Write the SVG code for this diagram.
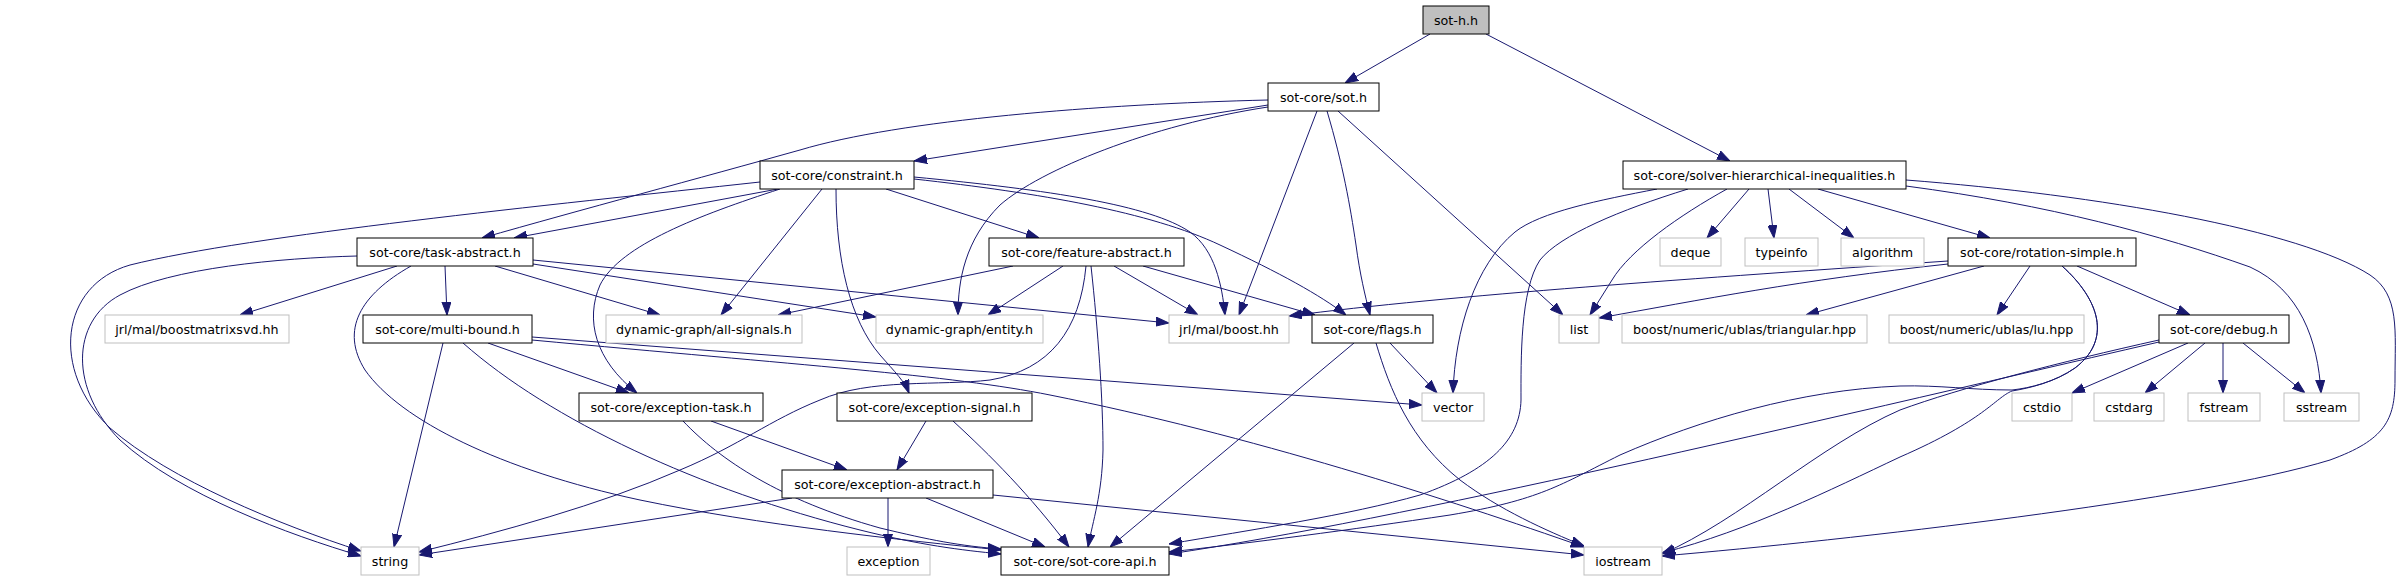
<svg xmlns="http://www.w3.org/2000/svg" width="2401" height="581" viewBox="0 0 2401 581">
<defs>
<style>
.n rect{fill:#fff;stroke:#000;stroke-width:1}
.x rect{fill:#fff;stroke:#bfbfbf;stroke-width:1}
.r rect{fill:#bfbfbf;stroke:#000;stroke-width:1}
text{font-family:"DejaVu Sans","Liberation Sans",sans-serif;font-size:12.7px;text-anchor:middle;fill:#000}
#edges path{fill:none;stroke:#191970;stroke-width:1;marker-end:url(#ah)}
</style>
<marker id="ah" markerUnits="userSpaceOnUse" markerWidth="13" markerHeight="10" viewBox="0 0 13 10" refX="13" refY="5" orient="auto">
<path d="M0,0.5 L13,5 L0,9.5 z" fill="#191970" stroke="#191970" stroke-width="1"/>
</marker>
</defs>
<rect width="2401" height="581" fill="#fff"/>
<g id="edges">
<path d="M1430,34 L1345,83"/>
<path d="M1486,34 L1730,161"/>
<path d="M1268,105 L914,161"/>
<path d="M1268,100 C1100,104 900,120 800,150 C700,178 580,210 482,238"/>
<path d="M1268,107 C1150,125 1040,170 1000,205 C965,240 958,280 958,315"/>
<path d="M1317,111 L1239,315"/>
<path d="M1327,111 C1343,165 1350,205 1356,245 C1360,275 1365,295 1370,315"/>
<path d="M1338,111 L1563,315"/>
<path d="M1657,189 C1600,200 1540,212 1515,232 C1475,265 1455,330 1453,393"/>
<path d="M1688,189 C1620,210 1560,235 1540,260 C1520,290 1521,360 1521,400 C1520,440 1490,470 1420,495 C1350,515 1250,530 1169,544"/>
<path d="M1727,189 C1680,215 1630,250 1612,280 L1590,315"/>
<path d="M1749,189 L1707,238"/>
<path d="M1768,189 L1774,238"/>
<path d="M1789,189 L1854,238"/>
<path d="M1818,189 L1990,238"/>
<path d="M1906,186 C2050,205 2160,235 2250,267 C2300,290 2318,340 2321,393"/>
<path d="M1906,180 C2100,195 2300,230 2370,275 C2400,295 2395,330 2395,380 C2395,420 2385,440 2330,460 C2200,500 1850,540 1662,556"/>
<path d="M778,189 L514,238"/>
<path d="M760,182 C550,205 250,235 130,265 C60,285 50,370 110,428 C170,480 280,525 361,551"/>
<path d="M822,189 L721,315"/>
<path d="M780,189 C700,215 620,245 600,285 C585,320 595,360 637,393"/>
<path d="M836,189 C836,260 850,320 880,355 C895,372 905,382 909,393"/>
<path d="M886,189 L1039,238"/>
<path d="M914,177 C1050,190 1150,205 1190,232 C1215,250 1222,285 1225,315"/>
<path d="M914,179 C1040,193 1150,212 1220,245 C1280,273 1320,295 1346,315"/>
<path d="M397,266 L240,315"/>
<path d="M445,266 L447,315"/>
<path d="M495,266 L660,315"/>
<path d="M533,264 L876,317"/>
<path d="M533,260 L1169,323"/>
<path d="M357,256 C280,258 170,268 120,295 C70,322 70,390 120,440 C180,495 290,535 361,556"/>
<path d="M411,266 C360,295 340,330 365,370 C400,420 500,470 640,500 C760,525 900,540 1001,550"/>
<path d="M1013,266 L778,315"/>
<path d="M1063,266 L988,315"/>
<path d="M1114,266 L1198,315"/>
<path d="M1143,266 L1315,315"/>
<path d="M1086,266 C1080,330 1050,370 990,380 C940,386 870,378 820,400 C770,420 740,445 680,470 C600,505 500,532 419,552"/>
<path d="M1091,266 C1098,330 1103,400 1103,450 C1102,495 1093,520 1088,547"/>
<path d="M1948,261 C1700,278 1450,295 1289,316"/>
<path d="M1948,264 C1800,280 1700,300 1599,318"/>
<path d="M1984,266 L1806,315"/>
<path d="M2030,266 L1997,315"/>
<path d="M2077,266 L2190,315"/>
<path d="M2062,266 C2100,300 2112,340 2075,368 C2055,382 2030,388 2012,390 C1970,390 1940,385 1900,386 C1800,390 1700,420 1620,455 C1560,485 1540,500 1450,515 C1350,530 1250,543 1169,552"/>
<path d="M2062,266 C2100,300 2112,340 2075,368 C2055,382 2030,388 2012,391 C1995,398 1985,420 1900,457 C1830,490 1750,530 1662,553"/>
<path d="M488,343 L629,393"/>
<path d="M443,343 L394,547"/>
<path d="M532,337 L1422,405"/>
<path d="M532,340 C800,365 950,375 1050,395 C1250,435 1450,500 1584,547"/>
<path d="M463,343 C550,420 700,490 860,530 C920,545 960,550 1001,554"/>
<path d="M1390,343 L1437,393"/>
<path d="M1354,343 L1110,547"/>
<path d="M1376,343 C1390,390 1410,440 1460,480 C1500,510 1545,530 1584,546"/>
<path d="M2188,343 L2072,393"/>
<path d="M2205,343 L2145,393"/>
<path d="M2223,343 L2223,393"/>
<path d="M2243,343 L2305,393"/>
<path d="M2159,342 C1800,425 1400,520 1169,554"/>
<path d="M2159,340 C2060,362 1960,388 1900,410 C1820,445 1740,520 1662,554"/>
<path d="M711,421 L847,470"/>
<path d="M683,421 C720,460 780,500 880,528 C930,540 960,546 1001,549"/>
<path d="M926,421 L897,470"/>
<path d="M953,421 C990,455 1030,495 1069,547"/>
<path d="M792,498 L419,555"/>
<path d="M888,498 L888,547"/>
<path d="M926,498 L1045,547"/>
<path d="M993,495 L1584,555"/>
</g>
<g id="node-sot-h" class="r"><rect x="1423" y="6" width="66" height="28"/><text x="1456" y="25">sot-h.h</text></g>
<g id="node-sot" class="n"><rect x="1268" y="83" width="111" height="28"/><text x="1323.5" y="102">sot-core/sot.h</text></g>
<g id="node-solver" class="n"><rect x="1623" y="161" width="283" height="28"/><text x="1764.5" y="180">sot-core/solver-hierarchical-inequalities.h</text></g>
<g id="node-constraint" class="n"><rect x="760" y="161" width="154" height="28"/><text x="837" y="180">sot-core/constraint.h</text></g>
<g id="node-task-abstract" class="n"><rect x="357" y="238" width="176" height="28"/><text x="445" y="257">sot-core/task-abstract.h</text></g>
<g id="node-feature-abstract" class="n"><rect x="989" y="238" width="195" height="28"/><text x="1086.5" y="257">sot-core/feature-abstract.h</text></g>
<g id="node-rotation-simple" class="n"><rect x="1948" y="238" width="188" height="28"/><text x="2042" y="257">sot-core/rotation-simple.h</text></g>
<g id="node-deque" class="x"><rect x="1660" y="238" width="61" height="28"/><text x="1690.5" y="257">deque</text></g>
<g id="node-typeinfo" class="x"><rect x="1745" y="238" width="73" height="28"/><text x="1781.5" y="257">typeinfo</text></g>
<g id="node-algorithm" class="x"><rect x="1841" y="238" width="83" height="28"/><text x="1882.5" y="257">algorithm</text></g>
<g id="node-boostmatrixsvd" class="x"><rect x="105" y="315" width="184" height="28"/><text x="197" y="334">jrl/mal/boostmatrixsvd.hh</text></g>
<g id="node-multi-bound" class="n"><rect x="363" y="315" width="169" height="28"/><text x="447.5" y="334">sot-core/multi-bound.h</text></g>
<g id="node-all-signals" class="x"><rect x="606" y="315" width="196" height="28"/><text x="704" y="334">dynamic-graph/all-signals.h</text></g>
<g id="node-entity" class="x"><rect x="876" y="315" width="167" height="28"/><text x="959.5" y="334">dynamic-graph/entity.h</text></g>
<g id="node-boost" class="x"><rect x="1169" y="315" width="120" height="28"/><text x="1229" y="334">jrl/mal/boost.hh</text></g>
<g id="node-flags" class="n"><rect x="1312" y="315" width="121" height="28"/><text x="1372.5" y="334">sot-core/flags.h</text></g>
<g id="node-list" class="x"><rect x="1559" y="315" width="40" height="28"/><text x="1579" y="334">list</text></g>
<g id="node-triangular" class="x"><rect x="1622" y="315" width="245" height="28"/><text x="1744.5" y="334">boost/numeric/ublas/triangular.hpp</text></g>
<g id="node-lu" class="x"><rect x="1889" y="315" width="195" height="28"/><text x="1986.5" y="334">boost/numeric/ublas/lu.hpp</text></g>
<g id="node-debug" class="n"><rect x="2159" y="315" width="130" height="28"/><text x="2224" y="334">sot-core/debug.h</text></g>
<g id="node-exception-task" class="n"><rect x="579" y="393" width="184" height="28"/><text x="671" y="412">sot-core/exception-task.h</text></g>
<g id="node-exception-signal" class="n"><rect x="837" y="393" width="195" height="28"/><text x="934.5" y="412">sot-core/exception-signal.h</text></g>
<g id="node-vector" class="x"><rect x="1422" y="393" width="62" height="28"/><text x="1453" y="412">vector</text></g>
<g id="node-cstdio" class="x"><rect x="2012" y="393" width="60" height="28"/><text x="2042" y="412">cstdio</text></g>
<g id="node-cstdarg" class="x"><rect x="2094" y="393" width="70" height="28"/><text x="2129" y="412">cstdarg</text></g>
<g id="node-fstream" class="x"><rect x="2188" y="393" width="72" height="28"/><text x="2224" y="412">fstream</text></g>
<g id="node-sstream" class="x"><rect x="2284" y="393" width="75" height="28"/><text x="2321.5" y="412">sstream</text></g>
<g id="node-exception-abstract" class="n"><rect x="782" y="470" width="211" height="28"/><text x="887.5" y="489">sot-core/exception-abstract.h</text></g>
<g id="node-string" class="x"><rect x="361" y="547" width="58" height="28"/><text x="390" y="566">string</text></g>
<g id="node-exception" class="x"><rect x="847" y="547" width="83" height="28"/><text x="888.5" y="566">exception</text></g>
<g id="node-sot-core-api" class="n"><rect x="1001" y="547" width="168" height="28"/><text x="1085" y="566">sot-core/sot-core-api.h</text></g>
<g id="node-iostream" class="x"><rect x="1584" y="547" width="78" height="28"/><text x="1623" y="566">iostream</text></g>
</svg>
